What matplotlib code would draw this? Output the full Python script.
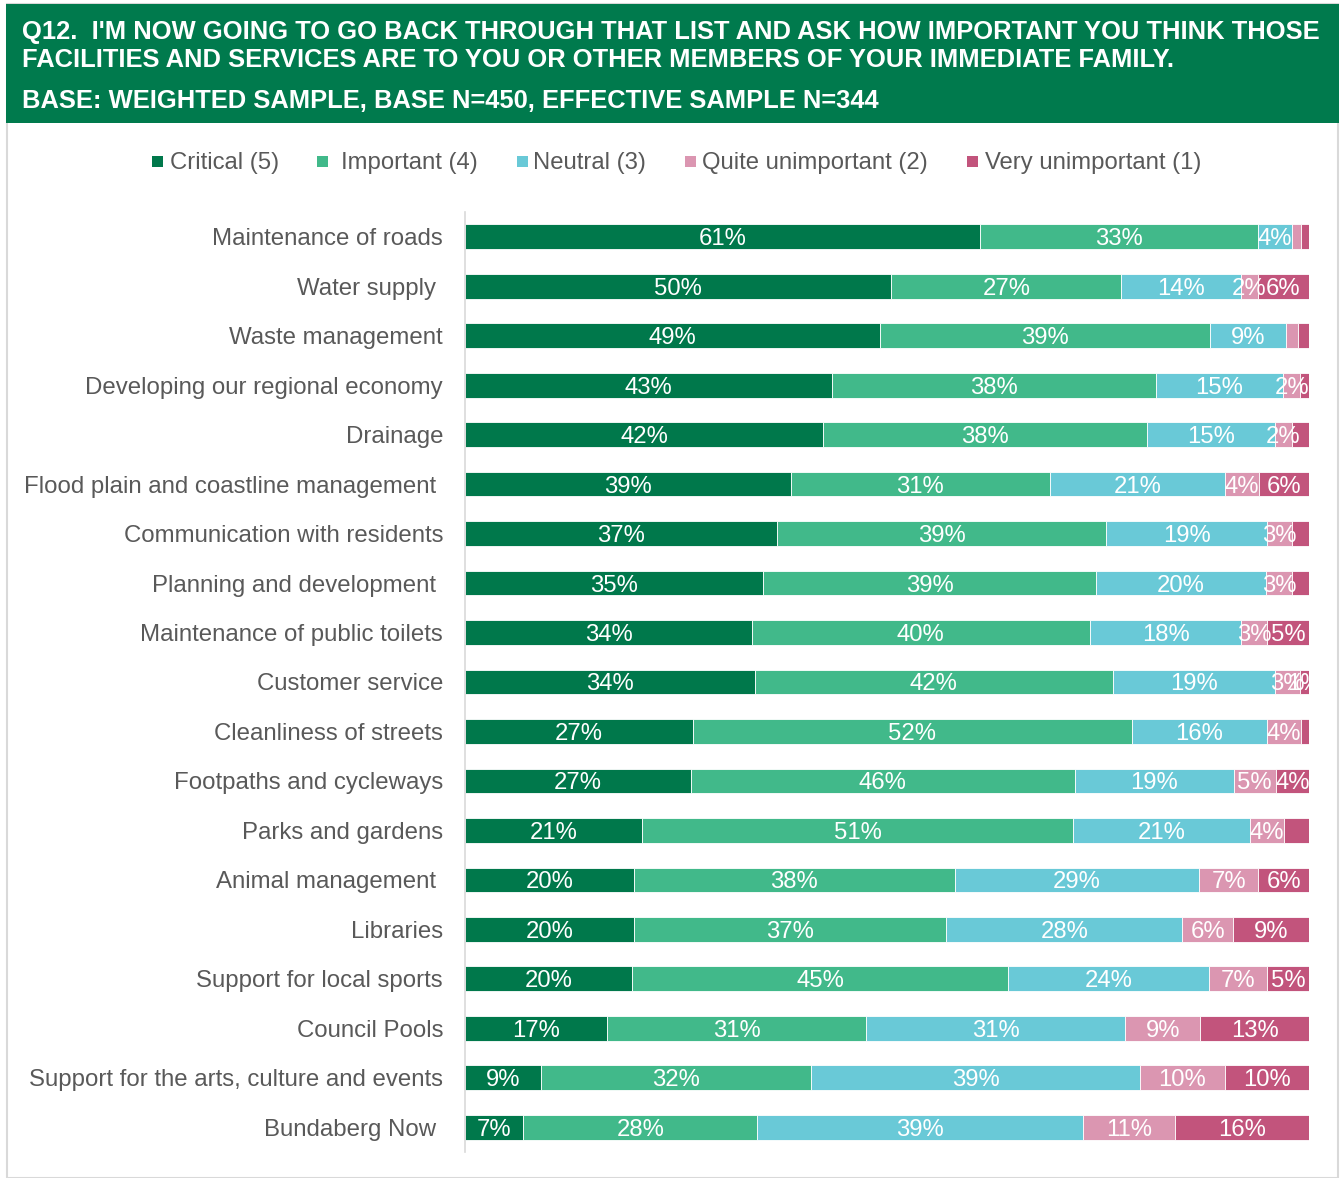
import matplotlib
matplotlib.use("Agg")
import matplotlib.pyplot as plt
from matplotlib.patches import Rectangle
import numpy as np

plt.rcParams['font.family'] = ['Liberation Sans', 'DejaVu Sans']

categories = [
    "Maintenance of roads",
    "Water supply ",
    "Waste management",
    "Developing our regional economy",
    "Drainage",
    "Flood plain and coastline management ",
    "Communication with residents",
    "Planning and development ",
    "Maintenance of public toilets",
    "Customer service",
    "Cleanliness of streets",
    "Footpaths and cycleways",
    "Parks and gardens",
    "Animal management ",
    "Libraries",
    "Support for local sports",
    "Council Pools",
    "Support for the arts, culture and events",
    "Bundaberg Now ",
]

series_names = ["Critical (5)", "Important (4)", "Neutral (3)",
                "Quite unimportant (2)", "Very unimportant (1)"]

critical = [61, 50, 49, 43, 42, 39, 37, 35, 34, 34, 27, 27, 21, 20, 20, 20, 17, 9, 7]
important = [33, 27, 39, 38, 38, 31, 39, 39, 40, 42, 52, 46, 51, 38, 37, 45, 31, 32, 28]
neutral = [4, 14, 9, 15, 15, 21, 19, 20, 18, 19, 16, 19, 21, 29, 28, 24, 31, 39, 39]
quite_unimportant = [1, 2, 1.4, 2, 2, 4, 3, 3, 3, 3, 4, 5, 4, 7, 6, 7, 9, 10, 11]
very_unimportant = [1, 6, 1.3, 1, 2, 6, 2, 2, 5, 1, 1, 4, 3, 6, 9, 5, 13, 10, 16]

# Which segments carry a printed value
shown = [
    [1, 1, 1, 0, 0],
    [1, 1, 1, 1, 1],
    [1, 1, 1, 0, 0],
    [1, 1, 1, 1, 0],
    [1, 1, 1, 1, 0],
    [1, 1, 1, 1, 1],
    [1, 1, 1, 1, 0],
    [1, 1, 1, 1, 0],
    [1, 1, 1, 1, 1],
    [1, 1, 1, 1, 1],
    [1, 1, 1, 1, 0],
    [1, 1, 1, 1, 1],
    [1, 1, 1, 1, 0],
    [1, 1, 1, 1, 1],
    [1, 1, 1, 1, 1],
    [1, 1, 1, 1, 1],
    [1, 1, 1, 1, 1],
    [1, 1, 1, 1, 1],
    [1, 1, 1, 1, 1],
]

colors = ["#00784B", "#41B98A", "#69C9D7", "#DB96B1", "#C2547C"]
header_green = "#007A4D"
label_grey = "#595959"

W, H = 1340, 1178
fig = plt.figure(figsize=(W / 100, H / 100), dpi=100)

# Outer panel frame and header band
fig.patches.append(Rectangle((7 / W, 0), (1338 - 7) / W, 1 - 4 / H, transform=fig.transFigure,
                             facecolor="white", edgecolor="#D9D9D9", linewidth=1.5, zorder=0))
fig.patches.append(Rectangle((6 / W, 1 - 123 / H), (1339 - 6) / W, (123 - 4) / H,
                             transform=fig.transFigure, facecolor=header_green,
                             edgecolor="none", zorder=1))

title_kw = dict(color="white", fontweight="bold", fontsize=18.35, va="baseline", ha="left", zorder=2)
fig.text(22 / W, 1 - 39 / H,
         "Q12.  I'M NOW GOING TO GO BACK THROUGH THAT LIST AND ASK HOW IMPORTANT YOU THINK THOSE",
         **title_kw)
fig.text(22 / W, 1 - 67 / H,
         "FACILITIES AND SERVICES ARE TO YOU OR OTHER MEMBERS OF YOUR IMMEDIATE FAMILY.",
         **title_kw)
fig.text(22 / W, 1 - 108 / H,
         "BASE: WEIGHTED SAMPLE, BASE N=450, EFFECTIVE SAMPLE N=344",
         **title_kw)

# Legend row
legend_items = [(152, 170), (317, 341), (517, 533), (685, 702), (967, 985)]
for (mx, tx), name, c in zip(legend_items, series_names, colors):
    fig.patches.append(Rectangle((mx / W, 1 - 167 / H), 11 / W, 11 / H,
                                 transform=fig.transFigure, facecolor=c,
                                 edgecolor="none", zorder=2))
    fig.text(tx / W, 1 - 161 / H, name, color=label_grey, fontsize=17.2,
             va="center_baseline", ha="left", zorder=2)

ax = fig.add_axes([465 / W, 1 - 1152 / H, (1309 - 465) / W, (1152 - 212) / H])
ax.set_zorder(3)
ax.patch.set_alpha(0)

data = np.array([critical, important, neutral, quite_unimportant, very_unimportant], dtype=float).T
shares = data / data.sum(axis=1, keepdims=True) * 100
y = np.arange(len(categories))

left = np.zeros(len(categories))
for j in range(5):
    bars = ax.barh(y, shares[:, j], left=left, height=0.5, color=colors[j],
                   edgecolor="white", linewidth=0.6)
    for i, b in enumerate(bars):
        if shown[i][j]:
            ax.text(left[i] + shares[i, j] / 2, y[i], f"{data[i, j]:.0f}%",
                    color="white", fontsize=17.2, ha="center", va="center_baseline",
                    clip_on=True)
    left += shares[:, j]

ax.set_xlim(0, 100)
ax.set_ylim(len(categories) - 0.5, -0.5)
ax.set_yticks(y)
ax.set_yticklabels(categories, fontsize=17.3, color=label_grey)
ax.tick_params(axis="y", length=0, pad=15.8)
ax.set_xticks([])
for s in ["top", "right", "bottom"]:
    ax.spines[s].set_visible(False)
ax.spines["left"].set_color("#D9D9D9")
ax.spines["left"].set_linewidth(1.2)

fig.savefig("out.png", dpi=100)
